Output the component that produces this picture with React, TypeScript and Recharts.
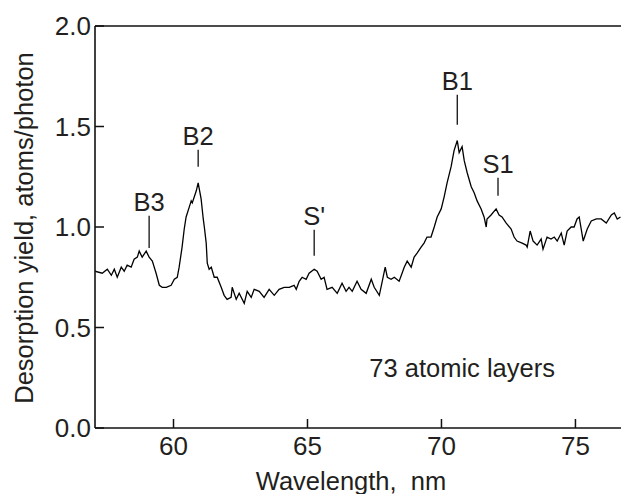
import React from "react";
import {
  LineChart,
  Line,
  XAxis,
  YAxis,
  ReferenceLine,
  ReferenceDot,
  Label,
} from "recharts";

// wavelength (nm) and desorption yield (atoms/photon)
const WAVELENGTH = [
  57.07, 57.34, 57.53, 57.68, 57.79, 57.9, 58.05, 58.16, 58.27, 58.42,
  58.53, 58.65, 58.72, 58.83, 58.98, 59.09, 59.21, 59.35, 59.47, 59.58,
  59.73, 59.91, 60.03, 60.14, 60.21, 60.32, 60.4, 60.47, 60.59, 60.66,
  60.7, 60.85, 60.92, 61.03, 61.11, 61.15, 61.22, 61.26, 61.33, 61.41,
  61.52, 61.63, 61.78, 61.89, 62.0, 62.15, 62.19, 62.34, 62.45, 62.64,
  62.75, 62.9, 63.01, 63.2, 63.38, 63.57, 63.76, 63.94, 64.13, 64.32,
  64.5, 64.58, 64.69, 64.8, 64.95, 65.06, 65.25, 65.36, 65.51, 65.62,
  65.73, 65.92, 66.11, 66.29, 66.44, 66.55, 66.67, 66.85, 67.0, 67.19,
  67.38, 67.49, 67.68, 67.79, 67.9, 67.98, 68.12, 68.24, 68.42, 68.53,
  68.61, 68.72, 68.87, 68.98, 69.09, 69.24, 69.35, 69.46, 69.61, 69.73,
  69.84, 69.99, 70.1, 70.21, 70.36, 70.47, 70.59, 70.66, 70.77, 70.85,
  70.96, 71.11, 71.22, 71.33, 71.48, 71.59, 71.67, 71.7, 71.85, 72.04,
  72.15, 72.26, 72.41, 72.6, 72.71, 72.82, 73.01, 73.16, 73.2, 73.31,
  73.42, 73.57, 73.72, 73.79, 73.94, 74.09, 74.21, 74.32, 74.47, 74.58,
  74.69, 74.84, 74.95, 75.06, 75.14, 75.29, 75.44, 75.59, 75.78, 75.96,
  76.15, 76.34, 76.45, 76.56, 76.68,
];

const YIELD = [
  0.78, 0.77, 0.79, 0.76, 0.79, 0.75, 0.8, 0.78, 0.81, 0.8,
  0.84, 0.85, 0.88, 0.85, 0.88, 0.85, 0.83, 0.77, 0.71, 0.7,
  0.7, 0.71, 0.74, 0.75, 0.8, 0.9, 0.99, 1.05, 1.1, 1.13,
  1.12, 1.18, 1.22, 1.14, 1.04, 1.0, 0.92, 0.82, 0.79, 0.8,
  0.75, 0.75, 0.7, 0.66, 0.64, 0.65, 0.7, 0.64, 0.67, 0.62,
  0.68, 0.65, 0.69, 0.68, 0.65, 0.69, 0.66, 0.69, 0.7, 0.7,
  0.71, 0.69, 0.73, 0.75, 0.74, 0.77, 0.79, 0.78, 0.74, 0.75,
  0.69, 0.7, 0.67, 0.72, 0.68, 0.7, 0.68, 0.73, 0.69, 0.67,
  0.74, 0.7, 0.66, 0.73, 0.8, 0.75, 0.74, 0.75, 0.73, 0.77,
  0.8, 0.83, 0.8, 0.85, 0.87, 0.9, 0.92, 0.95, 0.95, 1.0,
  1.05, 1.09, 1.15, 1.22, 1.3, 1.38, 1.43, 1.37, 1.4, 1.33,
  1.27, 1.2, 1.17, 1.13, 1.09, 1.05, 1.0, 1.04, 1.06, 1.09,
  1.06, 1.05, 1.02, 0.99, 0.95, 0.93, 0.92, 0.91, 0.9, 0.98,
  0.93, 0.91, 0.94, 0.89, 0.95, 0.94, 0.95, 0.93, 0.97, 0.91,
  0.98, 1.0, 1.0, 1.04, 1.05, 0.93, 0.99, 1.03, 1.04, 1.04,
  1.02, 1.06, 1.07, 1.04, 1.05,
];

const X_TICKS = [60, 65, 70, 75];
const Y_TICKS = [0, 0.5, 1.0, 1.5, 2.0];

// peak markers: label, wavelength, bottom and top of the marker stroke
const PEAK_NAMES = ["B3", "B2", "S'", "B1", "S1"];
const PEAK_X = [59.09, 60.92, 65.25, 70.59, 72.11];
const PEAK_Y0 = [0.896, 1.3, 0.857, 1.509, 1.155];
const PEAK_Y1 = [1.056, 1.384, 0.986, 1.658, 1.245];

const NOTE = "73 atomic layers";
const NOTE_POS = { x: 70.77, y: 0.3 };

const data = WAVELENGTH.map((x, i) => ({ x, y: YIELD[i] }));

const FONT = "'Liberation Sans', Arial, Helvetica, sans-serif";
const INK = "#231f20";
const textStyle = { fontFamily: FONT, fontSize: 25.5, fill: INK };
const tickStyle = { fontFamily: FONT, fontSize: 26, fill: INK };

const XTick = (props: any) => {
  const { x, y, payload } = props;
  return (
    <g>
      <line x1={x} x2={x} y1={y} y2={y - 9} stroke="#111" strokeWidth={1.5} />
      <text x={x} y={y + 27} textAnchor="middle" style={tickStyle}>
        {payload.value}
      </text>
    </g>
  );
};

const YTick = (props: any) => {
  const { x, y, payload } = props;
  return (
    <g>
      <line x1={x} x2={x + 9} y1={y} y2={y} stroke="#111" strokeWidth={1.5} />
      <text x={x - 4} y={y} dy="0.36em" textAnchor="end" style={tickStyle}>
        {Number(payload.value).toFixed(1)}
      </text>
    </g>
  );
};

export default function App() {
  return (
    <div style={{ position: "absolute", left: 0, top: 0, background: "#fff" }}>
      <LineChart
        width={621}
        height={494}
        data={data}
        margin={{ top: 26, right: 0, bottom: 0, left: 0 }}
      >
        <XAxis
          type="number"
          dataKey="x"
          domain={[57.07, 76.7]}
          ticks={X_TICKS}
          allowDataOverflow
          height={66}
          tickSize={0}
          tickMargin={0}
          tickLine={false}
          tick={<XTick />}
          axisLine={{ stroke: "#111", strokeWidth: 1.6 }}
        >
          <Label
            content={(p: any) => {
              const vb = p.viewBox;
              return (
                <text
                  x={vb.x + vb.width / 2 - 7}
                  y={vb.y + 62}
                  textAnchor="middle"
                  style={{ ...textStyle, whiteSpace: "pre" }}
                >
                  {"Wavelength,  nm"}
                </text>
              );
            }}
          />
        </XAxis>
        <YAxis
          type="number"
          domain={[0, 2]}
          ticks={Y_TICKS}
          width={95}
          tickSize={0}
          tickMargin={0}
          tickLine={false}
          tick={<YTick />}
          axisLine={{ stroke: "#111", strokeWidth: 1.6 }}
        >
          <Label
            content={(p: any) => {
              const vb = p.viewBox;
              const cx = 33;
              const cy = vb.y + vb.height / 2 + 1;
              return (
                <text
                  x={cx}
                  y={cy}
                  transform={`rotate(-90, ${cx}, ${cy})`}
                  textAnchor="middle"
                  style={textStyle}
                >
                  Desorption yield, atoms/photon
                </text>
              );
            }}
          />
        </YAxis>
        <ReferenceLine y={2} stroke="#111" strokeWidth={1.6} />
        {PEAK_NAMES.map((name, i) => (
          <ReferenceLine
            key={name}
            segment={[
              { x: PEAK_X[i], y: PEAK_Y0[i] },
              { x: PEAK_X[i], y: PEAK_Y1[i] },
            ]}
            stroke="#111"
            strokeWidth={1.3}
          >
            <Label value={name} position="top" offset={5} style={textStyle} />
          </ReferenceLine>
        ))}
        <ReferenceDot
          x={NOTE_POS.x}
          y={NOTE_POS.y}
          r={0}
          fill="none"
          stroke="none"
        >
          <Label value={NOTE} position="center" style={textStyle} />
        </ReferenceDot>
        <Line
          type="linear"
          dataKey="y"
          stroke="#000"
          strokeWidth={1.3}
          dot={false}
          isAnimationActive={false}
        />
      </LineChart>
    </div>
  );
}
